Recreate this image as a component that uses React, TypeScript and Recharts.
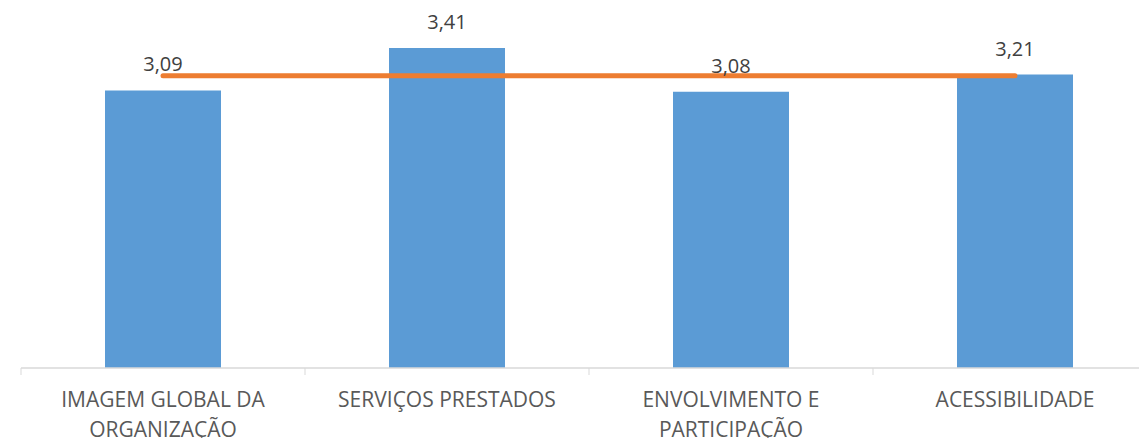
import { ComposedChart, Bar, Line, XAxis, YAxis, LabelList } from 'recharts';

const categories = ['IMAGEM GLOBAL DA ORGANIZAÇÃO', 'SERVIÇOS PRESTADOS', 'ENVOLVIMENTO E PARTICIPAÇÃO', 'ACESSIBILIDADE'];
const tickLines = [
  ['IMAGEM GLOBAL DA', 'ORGANIZAÇÃO'],
  ['SERVIÇOS PRESTADOS'],
  ['ENVOLVIMENTO E', 'PARTICIPAÇÃO'],
  ['ACESSIBILIDADE'],
];
const scores = [3.09, 3.41, 3.08, 3.21];
const average = [3.2, 3.2, 3.2, 3.2];

const data = categories.map((name, i) => ({ name, score: scores[i], media: average[i] }));

const CHART_W = 1160;
const MARGIN = { top: 36, right: 3, bottom: 0, left: 21 };
const BAND = (CHART_W - MARGIN.left - MARGIN.right) / categories.length;

const fmt = (v: number) => v.toFixed(2).replace('.', ',');

function CategoryTick(props: any) {
  const { x, y, index } = props;
  const lines = tickLines[index] || [];
  const half = BAND / 2;
  return (
    <g>
      <line x1={x - half} x2={x - half} y1={y} y2={y + 7} stroke="#D9D9D9" strokeWidth={1} />
      {index === categories.length - 1 && (
        <line x1={x + half} x2={x + half} y1={y} y2={y + 7} stroke="#D9D9D9" strokeWidth={1} />
      )}
      {lines.map((t, i) => (
        <text
          key={t}
          x={x}
          y={y + 39 + i * 30}
          textAnchor="middle"
          fill="#595959"
          fontSize={21}
          fontFamily="'Open Sans', sans-serif"
        >
          {t}
        </text>
      ))}
    </g>
  );
}

export default function App() {
  return (
    <div style={{ position: 'absolute', left: 0, top: 0, width: 1139, height: 438, overflow: 'hidden', background: '#fff' }}>
      <ComposedChart width={CHART_W} height={438} data={data} margin={MARGIN}>
        <XAxis
          dataKey="name"
          interval={0}
          axisLine={{ stroke: '#D9D9D9', strokeWidth: 1.5 }}
          tickLine={false}
          tickSize={0}
          tickMargin={0}
          tick={<CategoryTick />}
          height={70}
        />
        <YAxis hide domain={[1, 3.5]} />
        <Bar dataKey="score" fill="#5B9BD5" barSize={116} isAnimationActive={false}>
          <LabelList
            dataKey="score"
            position="top"
            offset={19}
            formatter={(v: any) => fmt(Number(v))}
            fill="#404040"
            fontSize={20}
            fontFamily="'Open Sans', sans-serif"
          />
        </Bar>
        <Line
          dataKey="media"
          stroke="#ED7D31"
          strokeWidth={5}
          strokeLinecap="round"
          dot={false}
          activeDot={false}
          isAnimationActive={false}
        />
      </ComposedChart>
    </div>
  );
}
